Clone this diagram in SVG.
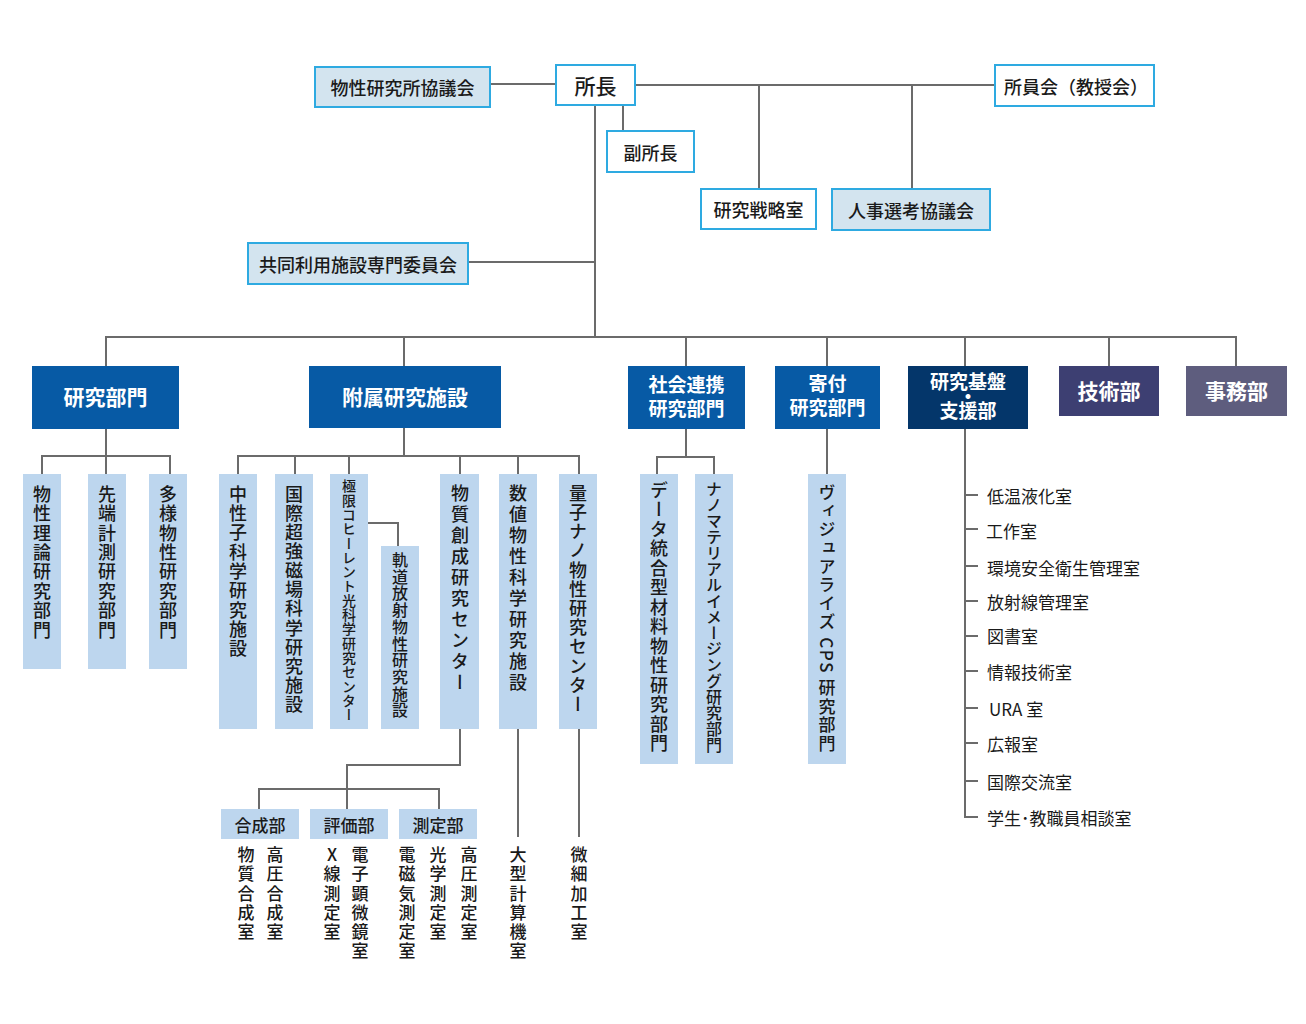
<svg xmlns="http://www.w3.org/2000/svg" width="1306" height="1024" viewBox="0 0 1306 1024">
<style>
.ln{stroke:#6b6b6b;stroke-width:2;fill:none}
.tb{fill:#d3e4ef;stroke:#2eaae1;stroke-width:2}
.tw{fill:#fff;stroke:#2eaae1;stroke-width:2}
text{font-family:"Noto Sans CJK JP","Noto Sans",sans-serif;fill:#1a1a1a}
.c{text-anchor:middle;dominant-baseline:central}
.t18{font-size:18px;font-weight:500}
.m{fill:#fff;font-size:21px;font-weight:700}
.m2{fill:#fff;font-size:19px;font-weight:700;text-anchor:middle}
.bar{fill:#bdd6ee}
.v{writing-mode:vertical-rl;font-weight:500;font-size:18px}
.li{font-size:17px;dominant-baseline:central}
.bt{font-size:17px;font-weight:500}
</style>
<rect width="1306" height="1024" fill="#fff"/>
<g id="connectors">
<path class="ln" d="M490,84H556M635,85H995M759,85V189M912,85V189M623,105V131M595,105V337M468,262H595"/>
<path class="ln" d="M106,366V337H1236V366M404,337V366M686,337V366M827,337V366M965,337V366M1109,337V366"/>
<path class="ln" d="M106,429V474M42,474V456H170V474"/>
<path class="ln" d="M404,428V456M238,474V456H579V474M295,456V474M349,456V474M460,456V474M518,456V474M368,523H398V546"/>
<path class="ln" d="M460,729V765H347V809M259,809V789H439V809M518,729V837M579,729V837"/>
<path class="ln" d="M686,429V457M657,474V457H714V474M827,429V474"/>
<path class="ln" d="M965,429V817H978M965,495H978M965,529H978M965,566H978M965,601H978M965,636H978M965,671H978M965,708H978M965,743H978M965,781H978"/>
</g>
<g id="n-kyogikai"><rect class="tb" x="315" y="67" width="175" height="40"/><text class="c t18" x="402.5" y="87">物性研究所協議会</text></g>
<g id="n-shocho"><rect class="tw" x="556" y="65" width="79" height="40"/><text class="c" x="595.5" y="85" style="font-size:21px;font-weight:500">所長</text></g>
<g id="n-fukushocho"><rect class="tw" x="607" y="131" width="87" height="41"/><text class="c t18" x="650.5" y="151.5">副所長</text></g>
<g id="n-shoinkai"><rect class="tw" x="995" y="65" width="159" height="41"/><text class="c t18" x="1076" y="85.5">所員会（教授会）</text></g>
<g id="n-senryaku"><rect class="tw" x="701" y="189" width="115" height="40"/><text class="c t18" x="758.5" y="209">研究戦略室</text></g>
<g id="n-jinji"><rect class="tb" x="832" y="189" width="158" height="41"/><text class="c t18" x="911" y="209.5">人事選考協議会</text></g>
<g id="n-kyodo"><rect class="tb" x="248" y="243" width="220" height="41"/><text class="c t18" x="358" y="263.5">共同利用施設専門委員会</text></g>

<g id="n-kenkyubumon"><rect x="32" y="366" width="147" height="63" fill="#075aa5"/><text class="c m" x="105.5" y="396">研究部門</text></g>
<g id="n-fuzoku"><rect x="309" y="366" width="192" height="62" fill="#075aa5"/><text class="c m" x="405" y="396">附属研究施設</text></g>
<g id="n-shakai"><rect x="628" y="366" width="117" height="63" fill="#075aa5"/><text class="m2"><tspan x="686.5" y="392">社会連携</tspan><tspan x="686.5" y="416">研究部門</tspan></text></g>
<g id="n-kifu"><rect x="775" y="366" width="105" height="63" fill="#075aa5"/><text class="m2"><tspan x="827.5" y="391">寄付</tspan><tspan x="827.5" y="415">研究部門</tspan></text></g>
<g id="n-kiban"><rect x="908" y="366" width="120" height="63" fill="#04366a"/><text class="m2"><tspan x="968" y="389">研究基盤</tspan><tspan x="968" y="404">・</tspan><tspan x="968" y="418">支援部</tspan></text></g>
<g id="n-gijutsu"><rect x="1059" y="366" width="100" height="50" fill="#3d3f72"/><text class="c m" x="1109" y="390">技術部</text></g>
<g id="n-jimu"><rect x="1186" y="366" width="101" height="50" fill="#5e5d7e"/><text class="c m" x="1236.5" y="390">事務部</text></g>

<g id="n-b1"><rect class="bar" x="23" y="474" width="38" height="195"/><text class="v" x="42" y="485" style="letter-spacing:1.4px">物性理論研究部門</text></g>
<g id="n-b2"><rect class="bar" x="88" y="474" width="38" height="195"/><text class="v" x="107" y="485" style="letter-spacing:1.4px">先端計測研究部門</text></g>
<g id="n-b3"><rect class="bar" x="149" y="474" width="38" height="195"/><text class="v" x="168" y="485" style="letter-spacing:1.4px">多様物性研究部門</text></g>
<g id="n-b4"><rect class="bar" x="219" y="474" width="38" height="255"/><text class="v" x="238" y="485" style="letter-spacing:1.3px">中性子科学研究施設</text></g>
<g id="n-b5"><rect class="bar" x="275" y="474" width="38" height="255"/><text class="v" x="294" y="485" style="letter-spacing:1.1px">国際超強磁場科学研究施設</text></g>
<g id="n-b6"><rect class="bar" x="330" y="474" width="38" height="255"/><text class="v" x="349" y="479" style="font-size:14px;letter-spacing:0.3px">極限コヒーレント光科学研究センター</text></g>
<g id="n-b7"><rect class="bar" x="381" y="546" width="38" height="183"/><text class="v" x="400" y="552" style="font-size:16px;letter-spacing:0.7px">軌道放射物性研究施設</text></g>
<g id="n-b8"><rect class="bar" x="440" y="474" width="39" height="255"/><text class="v" x="460" y="484" style="letter-spacing:3px">物質創成研究センター</text></g>
<g id="n-b9"><rect class="bar" x="499" y="474" width="38" height="255"/><text class="v" x="518" y="484" style="letter-spacing:3px">数値物性科学研究施設</text></g>
<g id="n-b10"><rect class="bar" x="559" y="474" width="38" height="255"/><text class="v" x="578" y="484" style="letter-spacing:1.2px">量子ナノ物性研究センター</text></g>
<g id="n-b11"><rect class="bar" x="640" y="474" width="38" height="290"/><text class="v" x="659" y="481" style="letter-spacing:1.5px">データ統合型材料物性研究部門</text></g>
<g id="n-b12"><rect class="bar" x="695" y="474" width="38" height="290"/><text class="v" x="714" y="481" style="font-size:16px;letter-spacing:0px">ナノマテリアルイメージング研究部門</text></g>
<g id="n-b13"><rect class="bar" x="808" y="474" width="38" height="290"/><text class="v" x="827" y="484" style="font-size:17px;letter-spacing:1.5px">ヴィジュアライズ CPS 研究部門</text></g>

<g id="n-gosei"><rect class="bar" x="221" y="809" width="78" height="30"/><text class="c bt" x="260" y="824">合成部</text></g>
<g id="n-hyoka"><rect class="bar" x="310" y="809" width="78" height="30"/><text class="c bt" x="349" y="824">評価部</text></g>
<g id="n-sokutei"><rect class="bar" x="399" y="809" width="78" height="30"/><text class="c bt" x="438" y="824">測定部</text></g>

<g id="n-r1"><text class="v" x="246" y="846" style="font-size:17px;letter-spacing:2.3px">物質合成室</text></g>
<g id="n-r2"><text class="v" x="275" y="846" style="font-size:17px;letter-spacing:2.3px">高圧合成室</text></g>
<g id="n-r3"><text class="v" x="332" y="846" style="font-size:17px;letter-spacing:2.3px;text-orientation:upright">X線測定室</text></g>
<g id="n-r4"><text class="v" x="360" y="846" style="font-size:17px;letter-spacing:2.3px">電子顕微鏡室</text></g>
<g id="n-r5"><text class="v" x="407" y="846" style="font-size:17px;letter-spacing:2.3px">電磁気測定室</text></g>
<g id="n-r6"><text class="v" x="438" y="846" style="font-size:17px;letter-spacing:2.3px">光学測定室</text></g>
<g id="n-r7"><text class="v" x="469" y="846" style="font-size:17px;letter-spacing:2.3px">高圧測定室</text></g>
<g id="n-r8"><text class="v" x="518" y="846" style="font-size:17px;letter-spacing:2.3px">大型計算機室</text></g>
<g id="n-r9"><text class="v" x="579" y="846" style="font-size:17px;letter-spacing:2.3px">微細加工室</text></g>

<g id="n-list">
<text class="li" x="987" y="495">低温液化室</text>
<text class="li" x="986" y="530">工作室</text>
<text class="li" x="987" y="567">環境安全衛生管理室</text>
<text class="li" x="987" y="601">放射線管理室</text>
<text class="li" x="987" y="635">図書室</text>
<text class="li" x="987" y="671">情報技術室</text>
<text class="li" x="989" y="708">URA 室</text>
<text class="li" x="987" y="743">広報室</text>
<text class="li" x="987" y="781">国際交流室</text>
<text class="li" x="987" y="817">学生･教職員相談室</text>
</g>
</svg>
